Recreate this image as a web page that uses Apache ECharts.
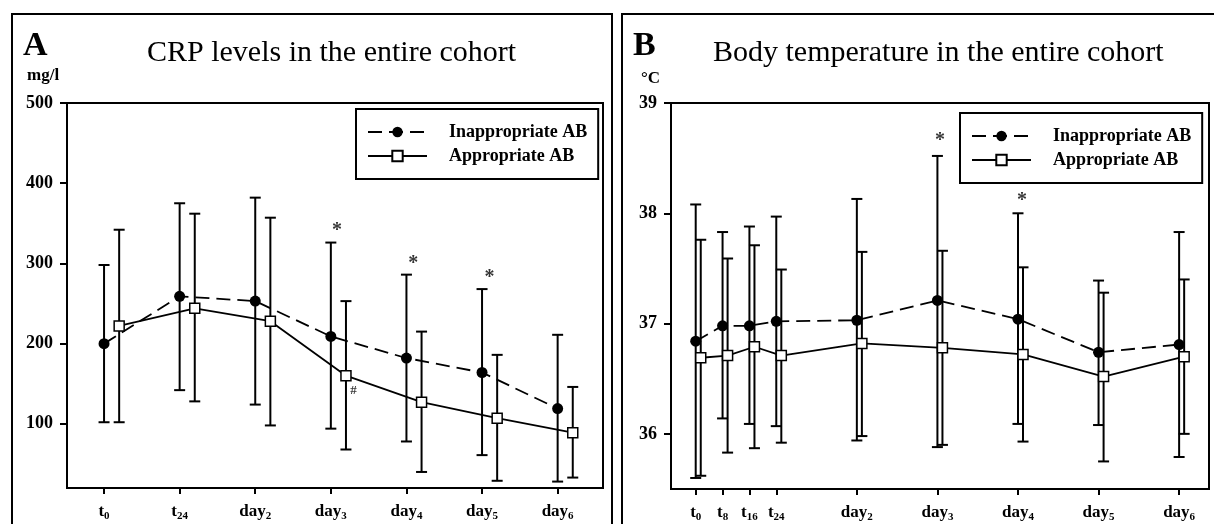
<!DOCTYPE html>
<html>
<head>
<meta charset="utf-8">
<script src="https://cdn.jsdelivr.net/npm/echarts@6/dist/echarts.min.js"></script>
<style>
  html, body { margin: 0; padding: 0; background: #fff; }
  #chart { width: 1214px; height: 524px; }
</style>
</head>
<body>
<div id="chart"></div>
<script>
// panel A: CRP (mg/l)
const xLabelsA = ['t_0', 't_24', 'day_2', 'day_3', 'day_4', 'day_5', 'day_6'];
const xPosA = [0, 1, 2, 3, 4, 5, 6];
const inappA = [200, 259, 253, 209, 182, 164, 119];
const inappHiA = [298, 375, 382, 326, 286, 268, 211];
const inappLoA = [102, 142, 124, 94, 78, 61, 28];
const appA = [222, 244, 228, 160, 127, 107, 89];
const appHiA = [342, 362, 357, 253, 215, 186, 146];
const appLoA = [102, 128, 98, 68, 40, 29, 33];
const yTicksA = [100, 200, 300, 400, 500];
const starsA = [[3.08, 341], [4.09, 300], [5.1, 282]];
const hashA = [[3.3, 142]];

// panel B: body temperature (°C), x in hours
const xLabelsB = ['t_0', 't_8', 't_16', 't_24', 'day_2', 'day_3', 'day_4', 'day_5', 'day_6'];
const xPosB = [0, 8, 16, 24, 48, 72, 96, 120, 144];
const inappB = [36.84, 36.98, 36.98, 37.02, 37.03, 37.21, 37.04, 36.74, 36.81];
const inappHiB = [38.08, 37.83, 37.88, 37.97, 38.13, 38.52, 38.00, 37.39, 37.83];
const inappLoB = [35.60, 36.14, 36.09, 36.07, 35.94, 35.88, 36.09, 36.08, 35.79];
const appB = [36.69, 36.71, 36.79, 36.71, 36.82, 36.78, 36.72, 36.52, 36.70];
const appHiB = [37.76, 37.59, 37.71, 37.49, 37.65, 37.66, 37.51, 37.28, 37.40];
const appLoB = [35.62, 35.83, 35.87, 35.92, 35.98, 35.90, 35.93, 35.75, 36.00];
const yTicksB = [36, 37, 38, 39];
const starsB = [[72.8, 38.66], [97.2, 38.11]];

const serif = '"Liberation Serif", "DejaVu Serif", serif';
const shiftA = 0.2;   // appropriate group drawn a bit to the right
const shiftB = 1.5;

const chart = echarts.init(document.getElementById('chart'));

function pts(xs, ys, shift) {
  return xs.map((x, i) => [x + shift, ys[i]]);
}
function bars(xs, lo, hi, shift) {
  return xs.map((x, i) => [x + shift, lo[i], hi[i]]);
}

function errRender(params, api) {
  const lo = api.coord([api.value(0), api.value(1)]);
  const hi = api.coord([api.value(0), api.value(2)]);
  const w = 5.5;
  const st = { stroke: '#000', lineWidth: 2 };
  return {
    type: 'group',
    children: [
      { type: 'line', shape: { x1: lo[0], y1: lo[1], x2: hi[0], y2: hi[1] }, style: st },
      { type: 'line', shape: { x1: hi[0] - w, y1: hi[1], x2: hi[0] + w, y2: hi[1] }, style: st },
      { type: 'line', shape: { x1: lo[0] - w, y1: lo[1], x2: lo[0] + w, y2: lo[1] }, style: st }
    ]
  };
}

function xLabelFmt(labels, pos) {
  return function (v) {
    const i = pos.indexOf(v);
    if (i < 0) return '';
    const parts = labels[i].split('_');
    return '{b|' + parts[0] + '}{s|' + parts[1] + '}';
  };
}

const labelRich = {
  b: { fontFamily: serif, fontWeight: 'bold', fontSize: 17, color: '#000' },
  s: { fontFamily: serif, fontWeight: 'bold', fontSize: 11, color: '#000', padding: [10, 0, 0, 0] }
};

function xAxisCfg(idx, min, max, pos, labels) {
  return {
    type: 'value', gridIndex: idx, min: min, max: max,
    axisLine: { show: true, onZero: false, lineStyle: { color: '#000', width: 2 } },
    axisTick: { show: true, customValues: pos, length: 6, lineStyle: { color: '#000', width: 2 } },
    axisLabel: { customValues: pos, formatter: xLabelFmt(labels, pos), rich: labelRich, margin: 13 },
    splitLine: { show: false }
  };
}
function yAxisCfg(idx, min, max, ticks) {
  return {
    type: 'value', gridIndex: idx, min: min, max: max,
    axisLine: { show: true, onZero: false, lineStyle: { color: '#000', width: 2 } },
    axisTick: { show: true, customValues: ticks, length: 7, lineStyle: { color: '#000', width: 2 } },
    axisLabel: { customValues: ticks, fontFamily: serif, fontWeight: 'bold', fontSize: 18, color: '#000', margin: 14 },
    splitLine: { show: false }
  };
}

function lineSeries(name, idx, data, dashed) {
  return {
    name: name, type: 'line', xAxisIndex: idx, yAxisIndex: idx, data: data, z: 5,
    symbol: dashed ? 'circle' : 'rect',
    symbolSize: dashed ? 11 : 10,
    itemStyle: dashed ? { color: '#000' } : { color: '#fff', borderColor: '#000', borderWidth: 1.5 },
    lineStyle: { color: '#000', width: 1.8, type: dashed ? [14, 7] : 'solid' },
    emphasis: { disabled: true },
    animation: false
  };
}
function errSeries(idx, data) {
  return {
    type: 'custom', xAxisIndex: idx, yAxisIndex: idx, data: data, z: 2,
    renderItem: errRender, animation: false, silent: true
  };
}
function noteSeries(idx, data, text, size) {
  return {
    type: 'scatter', xAxisIndex: idx, yAxisIndex: idx, data: data, symbolSize: 0, z: 6,
    label: { show: true, position: 'inside', formatter: text, fontFamily: serif, fontWeight: 'bold', fontSize: size, color: '#000' },
    silent: true, animation: false
  };
}

function legendCfg(left, top) {
  return {
    left: left, top: top, orient: 'vertical',
    data: ['Inappropriate AB', 'Appropriate AB'],
    itemWidth: 59, itemHeight: 13, itemGap: 6,
    padding: [14, 11, 14, 11],
    borderColor: '#000', borderWidth: 2, borderRadius: 0,
    selectedMode: false,
    textStyle: { fontFamily: serif, fontWeight: 'bold', fontSize: 18, color: '#000', lineHeight: 16, padding: [0, 0, 0, 17] }
  };
}

const option = {
  backgroundColor: '#fff',
  animation: false,
  grid: [
    { left: 67, top: 103, width: 536, height: 385, show: true, borderColor: '#000', borderWidth: 2, backgroundColor: 'transparent' },
    { left: 671, top: 103, width: 538, height: 386, show: true, borderColor: '#000', borderWidth: 2, backgroundColor: 'transparent' }
  ],
  xAxis: [
    xAxisCfg(0, -0.49, 6.6, xPosA, xLabelsA),
    xAxisCfg(1, -7.36, 152.9, xPosB, xLabelsB)
  ],
  yAxis: [
    yAxisCfg(0, 20, 500, yTicksA),
    yAxisCfg(1, 35.5, 39, yTicksB)
  ],
  legend: [legendCfg(356, 109), legendCfg(960, 113)],
  graphic: [
    { type: 'rect', shape: { x: 12, y: 14, width: 600, height: 540 }, style: { fill: 'none', stroke: '#000', lineWidth: 2 } },
    { type: 'rect', shape: { x: 622, y: 14, width: 600, height: 540 }, style: { fill: 'none', stroke: '#000', lineWidth: 2 } },
    { type: 'text', left: 23, top: 29, style: { text: 'A', font: 'bold 34px ' + serif, fill: '#000' } },
    { type: 'text', left: 147, top: 38, style: { text: 'CRP levels in the entire cohort', font: '30px ' + serif, fill: '#000' } },
    { type: 'text', left: 27, top: 67, style: { text: 'mg/l', font: 'bold 17px ' + serif, fill: '#000' } },
    { type: 'text', left: 633, top: 29, style: { text: 'B', font: 'bold 34px ' + serif, fill: '#000' } },
    { type: 'text', left: 713, top: 38, style: { text: 'Body temperature in the entire cohort', font: '30px ' + serif, fill: '#000' } },
    { type: 'text', left: 641, top: 70, style: { text: '°C', font: 'bold 17px ' + serif, fill: '#000' } }
  ],
  series: [
    errSeries(0, bars(xPosA, inappLoA, inappHiA, 0)),
    errSeries(0, bars(xPosA, appLoA, appHiA, shiftA)),
    lineSeries('Inappropriate AB', 0, pts(xPosA, inappA, 0), true),
    lineSeries('Appropriate AB', 0, pts(xPosA, appA, shiftA), false),
    noteSeries(0, starsA, '*', 20),
    noteSeries(0, hashA, '#', 13),
    errSeries(1, bars(xPosB, inappLoB, inappHiB, 0)),
    errSeries(1, bars(xPosB, appLoB, appHiB, shiftB)),
    lineSeries('Inappropriate AB', 1, pts(xPosB, inappB, 0), true),
    lineSeries('Appropriate AB', 1, pts(xPosB, appB, shiftB), false),
    noteSeries(1, starsB, '*', 20)
  ]
};

chart.setOption(option);
</script>
</body>
</html>
